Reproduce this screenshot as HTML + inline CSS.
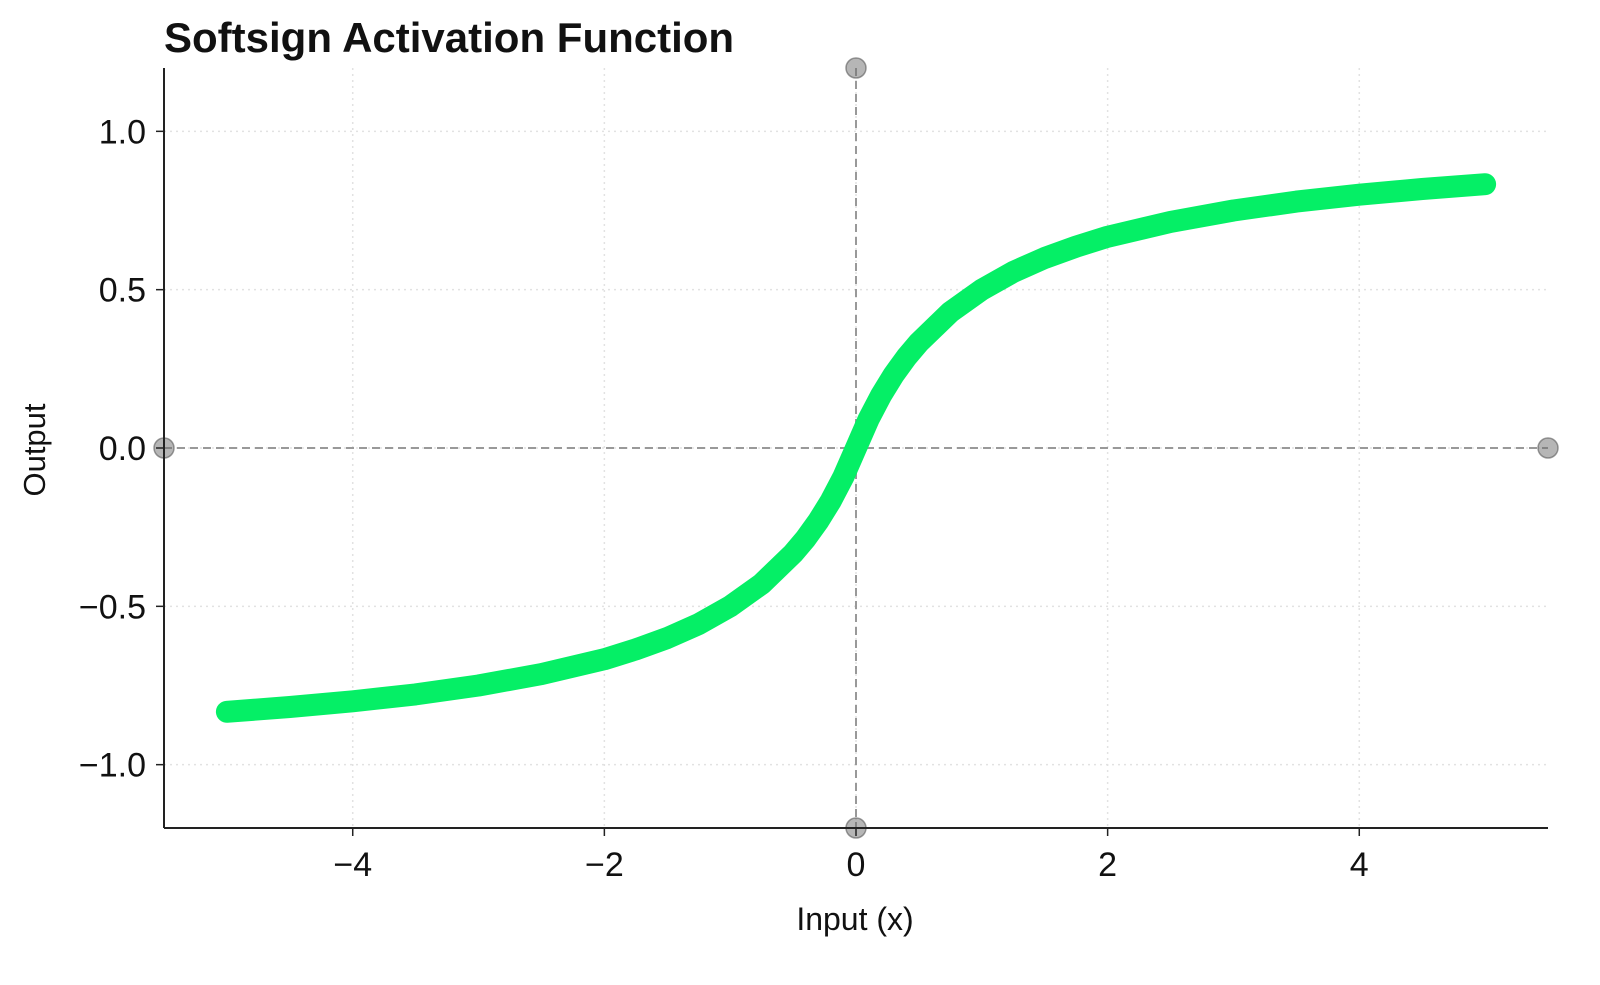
<!DOCTYPE html>
<html><head><meta charset="utf-8"><style>
body{margin:0;background:#fff}
svg text{font-family:"Liberation Sans",sans-serif;fill:#111}
</style></head><body>
<svg width="1600" height="980" viewBox="0 0 1600 980" id="chart">
<text x="164" y="52" font-size="42" font-weight="bold">Softsign Activation Function</text>
<g id="grid"></g><g id="refs"></g><g id="series"></g><g id="axes"></g>
<text x="855" y="930" font-size="32" text-anchor="middle">Input (x)</text>
<text transform="translate(45,450) rotate(-90)" font-size="31" text-anchor="middle">Output</text>
</svg>
<script>
const xValues=[-5,-4.5,-4,-3.5,-3,-2.5,-2,-1.75,-1.5,-1.25,-1,-0.75,-0.5,-0.4,-0.3,-0.2,-0.1,0,0.1,0.2,0.3,0.4,0.5,0.75,1,1.25,1.5,1.75,2,2.5,3,3.5,4,4.5,5];
const yValues=[-0.833,-0.818,-0.8,-0.778,-0.75,-0.714,-0.667,-0.636,-0.6,-0.556,-0.5,-0.429,-0.333,-0.286,-0.231,-0.167,-0.091,0,0.091,0.167,0.231,0.286,0.333,0.429,0.5,0.556,0.6,0.636,0.667,0.714,0.75,0.778,0.8,0.818,0.833];
const xTicks=[-4,-2,0,2,4];
const yTicks=[-1.0,-0.5,0.0,0.5,1.0];
const yTickLabels=["\u22121.0","\u22120.5","0.0","0.5","1.0"];
const xTickLabels=["\u22124","\u22122","0","2","4"];
const NS="http://www.w3.org/2000/svg";
const L=164,R=1548,T=68,B=828,xmin=-5.5,xmax=5.5,ymin=-1.2,ymax=1.2;
const sx=v=>L+(v-xmin)/(xmax-xmin)*(R-L);
const sy=v=>B-(v-ymin)/(ymax-ymin)*(B-T);
function mk(tag,attrs,parent){const e=document.createElementNS(NS,tag);for(const k in attrs)e.setAttribute(k,attrs[k]);document.getElementById(parent).appendChild(e);return e;}
xTicks.forEach((t,i)=>{
 const g=mk('line',{x1:sx(t),x2:sx(t),y1:T,y2:B,stroke:'#e2e2e2','stroke-width':1.5,'stroke-dasharray':'2 4'},'grid');
 
 
 const tk=mk('line',{x1:sx(t),x2:sx(t),y1:B,y2:B+8,stroke:'#222','stroke-width':1.5},'axes');
 
 
 const tx=mk('text',{x:sx(t),y:B+48,'font-size':34,'text-anchor':'middle'},'axes');
 tx.textContent=xTickLabels[i];
 
 
});
yTicks.forEach((t,i)=>{
 const g=mk('line',{x1:L,x2:R,y1:sy(t),y2:sy(t),stroke:'#e2e2e2','stroke-width':1.5,'stroke-dasharray':'2 4'},'grid');
 
 
 const tk=mk('line',{x1:L-8,x2:L,y1:sy(t),y2:sy(t),stroke:'#222','stroke-width':1.5},'axes');
 
 
 const tx=mk('text',{x:L-18,y:sy(t)+12,'font-size':34,'text-anchor':'end'},'axes');
 tx.textContent=yTickLabels[i];
 
 
});
const h=mk('line',{x1:L,x2:R,y1:sy(0),y2:sy(0),stroke:'#999','stroke-width':2,'stroke-dasharray':'8 5'},'refs');


const v=mk('line',{x1:sx(0),x2:sx(0),y1:T,y2:B,stroke:'#999','stroke-width':2,'stroke-dasharray':'8 5'},'refs');


[[0,ymax],[0,ymin],[xmin,0],[xmax,0]].forEach(p=>{
 const c=mk('circle',{cx:sx(p[0]),cy:sy(p[1]),r:10,fill:'rgba(110,110,110,0.5)',stroke:'rgba(90,90,90,0.6)','stroke-width':1.5},'refs');
 
 
});
let d='';
xValues.forEach((x,i)=>{d+=(i?'L':'M')+sx(x).toFixed(1)+','+sy(yValues[i]).toFixed(1);});
const path=mk('path',{d:d,fill:'none',stroke:'#05ef66','stroke-width':22,'stroke-linecap':'round','stroke-linejoin':'round'},'series');


const ax1=mk('line',{x1:L,x2:L,y1:T,y2:B,stroke:'#222','stroke-width':2},'axes');


const ax2=mk('line',{x1:L,x2:R,y1:B,y2:B,stroke:'#222','stroke-width':2},'axes');


</script>
</body></html>
